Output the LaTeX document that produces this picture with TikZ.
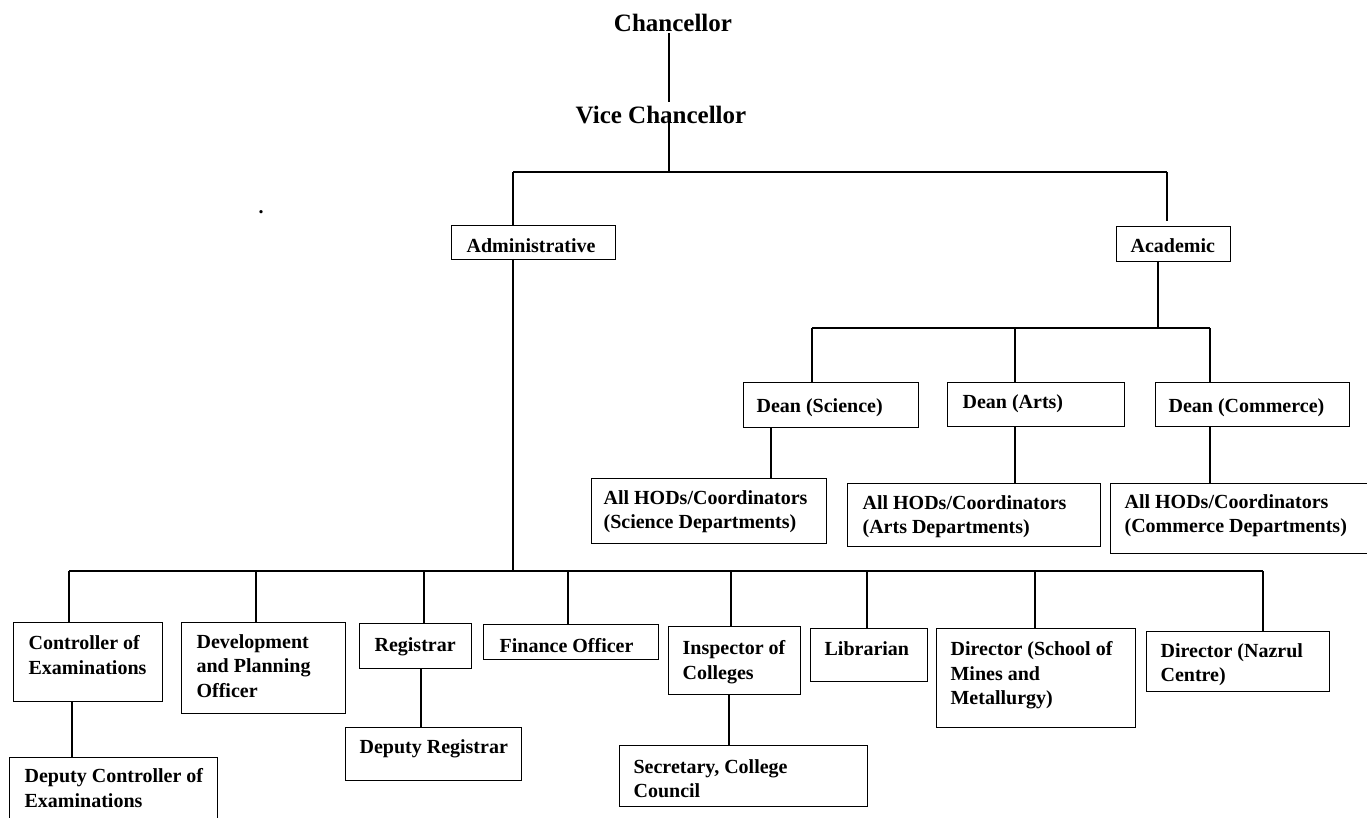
\documentclass[tikz,border=0pt]{standalone}
\usepackage{fontspec}
\setmainfont{Liberation Serif}
\begin{document}
\begin{tikzpicture}[x=1pt,y=-1pt,line width=1.2pt,
  box/.style={draw, rectangle, inner sep=0pt, anchor=north west},
  lbl/.style={anchor=north west, inner sep=0pt, align=left, font=\bfseries\fontsize{20}{24.5}\selectfont},
  one/.style={anchor=base west, inner sep=0pt, font=\bfseries\fontsize{20}{24.5}\selectfont},
  ttl/.style={anchor=base, inner sep=0pt, font=\bfseries\fontsize{25}{28}\selectfont}]
\useasboundingbox (0,0) rectangle (1367,818);

% titles
\node[ttl] (chan) at (673,32) {Chancellor};
\node[ttl] (vc) at (661,124) {Vice Chancellor};
\node[one] (dot) at (258,214) {.};

% second level
\node[box, minimum width=164pt, minimum height=34pt] (adm) at (451,225) {};
\node[one] (admT) at (466,252) {Administrative};
\node[box, minimum width=114pt, minimum height=35pt] (acad) at (1116,226) {};
\node[one] (acadT) at (1130,253) {Academic};

% deans
\node[box, minimum width=175pt, minimum height=45pt] (dsci) at (743,382) {};
\node[one] (dsciT) at (756,412) {Dean (Science)};
\node[box, minimum width=177pt, minimum height=44pt] (darts) at (947,382) {};
\node[one] (dartsT) at (962,408) {Dean (Arts)};
\node[box, minimum width=194pt, minimum height=44pt] (dcom) at (1155,382) {};
\node[one] (dcomT) at (1168,412) {Dean (Commerce)};

% HODs
\node[box, minimum width=235pt, minimum height=65pt] (hsci) at (591,478) {};
\node[lbl] (hsciT) at (603,490) {All HODs/Coordinators\\(Science Departments)};
\node[box, minimum width=253pt, minimum height=63pt] (harts) at (847,483) {};
\node[lbl] (hartsT) at (862,495) {All HODs/Coordinators\\(Arts Departments)};
\node[box, minimum width=262pt, minimum height=70pt] (hcom) at (1110,483) {};
\node[lbl] (hcomT) at (1124,494) {All HODs/Coordinators\\(Commerce Departments)};

% bottom row
\node[box, minimum width=149pt, minimum height=79pt] (ctrl) at (13,622) {};
\node[lbl] (ctrlT) at (28,635) {Controller of\\Examinations};
\node[box, minimum width=208pt, minimum height=70pt] (dctrl) at (9,757) {};
\node[lbl] (dctrlT) at (24,768) {Deputy Controller of\\Examinations};
\node[box, minimum width=164pt, minimum height=91pt] (dev) at (181,622) {};
\node[lbl] (devT) at (196,634) {Development\\and Planning\\Officer};
\node[box, minimum width=112pt, minimum height=45pt] (reg) at (359,623) {};
\node[one] (regT) at (374,651) {Registrar};
\node[box, minimum width=176pt, minimum height=53pt] (dreg) at (345,727) {};
\node[one] (dregT) at (359,753) {Deputy Registrar};
\node[box, minimum width=175pt, minimum height=35pt] (fin) at (483,624) {};
\node[one] (finT) at (499,652) {Finance Officer};
\node[box, minimum width=132pt, minimum height=68pt] (insp) at (668,626) {};
\node[lbl] (inspT) at (682,640) {Inspector of\\Colleges};
\node[box, minimum width=248pt, minimum height=61pt] (sec) at (619,745) {};
\node[lbl] (secT) at (633,759) {Secretary, College\\Council};
\node[box, minimum width=117pt, minimum height=53pt] (lib) at (810,628) {};
\node[one] (libT) at (824,655) {Librarian};
\node[box, minimum width=199pt, minimum height=99pt] (dsm) at (936,628) {};
\node[lbl] (dsmT) at (950,641) {Director (School of\\Mines and\\Metallurgy)};
\node[box, minimum width=183pt, minimum height=60pt] (naz) at (1146,631) {};
\node[lbl] (nazT) at (1160,643) {Director (Nazrul\\Centre)};

% connector coordinates
\coordinate (c1) at (669,33);
\coordinate (c2) at (669,102);
\coordinate (c3) at (669,113);
\coordinate (j0) at (669,172);
\coordinate (jl) at (513,172);
\coordinate (jr) at (1167,172);
\coordinate (jre) at (1167,221);
\coordinate (a1) at (1158,261);
\coordinate (ab) at (1158,328);
\coordinate (ab1) at (812,328);
\coordinate (ab2) at (1015,328);
\coordinate (ab3) at (1210,328);
\coordinate (m1) at (513,259);
\coordinate (mb) at (513,571);
\coordinate (bl) at (69,571);
\coordinate (b2) at (256,571);
\coordinate (b3) at (424,571);
\coordinate (b4) at (568,571);
\coordinate (b5) at (731,571);
\coordinate (b6) at (867,571);
\coordinate (b7) at (1035,571);
\coordinate (br) at (1263,571);

\draw (c1) -- (c2);
\draw (c3) -- (j0);
\draw (jl) -- (jr);
\draw (jl) -- (jl |- adm.north);
\draw (jr) -- (jre);
\draw (a1) -- (ab);
\draw (ab1) -- (ab3);
\draw (ab1) -- (ab1 |- dsci.north);
\draw (ab2) -- (ab2 |- darts.north);
\draw (ab3) -- (ab3 |- dcom.north);
\draw (dsci.south -| 771,0) -- (hsci.north -| 771,0);
\draw (darts.south -| 1015,0) -- (harts.north -| 1015,0);
\draw (dcom.south -| 1210,0) -- (hcom.north -| 1210,0);

\draw (m1) -- (mb);
\draw (bl) -- (br);
\draw (bl) -- (bl |- ctrl.north);
\draw (b2) -- (b2 |- dev.north);
\draw (b3) -- (b3 |- reg.north);
\draw (b4) -- (b4 |- fin.north);
\draw (b5) -- (b5 |- insp.north);
\draw (b6) -- (b6 |- lib.north);
\draw (b7) -- (b7 |- dsm.north);
\draw (br) -- (br |- naz.north);
\draw (ctrl.south -| 72,0) -- (dctrl.north -| 72,0);
\draw (reg.south -| 421,0) -- (dreg.north -| 421,0);
\draw (insp.south -| 729,0) -- (sec.north -| 729,0);
\end{tikzpicture}
\end{document}
